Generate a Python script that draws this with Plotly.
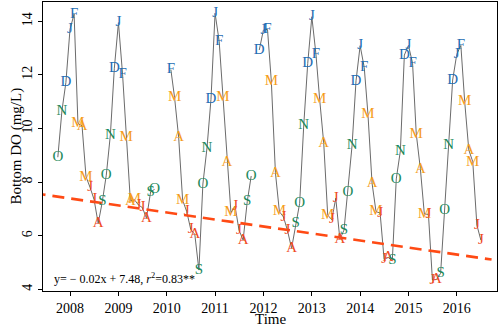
import plotly.graph_objects as go

# Monthly bottom dissolved oxygen (mg/L); months without a sample are left out
months = [
    "2007-10", "2007-11", "2007-12",
    "2008-01", "2008-02", "2008-03", "2008-04", "2008-05", "2008-06", "2008-07", "2008-08", "2008-09", "2008-10", "2008-11", "2008-12",
    "2009-01", "2009-02", "2009-03", "2009-04", "2009-05", "2009-06", "2009-07", "2009-08", "2009-09", "2009-10",
    "2010-02", "2010-03", "2010-04", "2010-05", "2010-06", "2010-07", "2010-08", "2010-09", "2010-10", "2010-11", "2010-12",
    "2011-01", "2011-02", "2011-03", "2011-04", "2011-05", "2011-06", "2011-07", "2011-08", "2011-09", "2011-10", "2011-12",
    "2012-01", "2012-02", "2012-03", "2012-04", "2012-05", "2012-06", "2012-07", "2012-08", "2012-09", "2012-10", "2012-11", "2012-12",
    "2013-01", "2013-02", "2013-03", "2013-04", "2013-05", "2013-06", "2013-07", "2013-08", "2013-09", "2013-10", "2013-11", "2013-12",
    "2014-01", "2014-02", "2014-03", "2014-04", "2014-05", "2014-06", "2014-07", "2014-08", "2014-09", "2014-10", "2014-11", "2014-12",
    "2015-01", "2015-02", "2015-03", "2015-04", "2015-05", "2015-06", "2015-07", "2015-08", "2015-09", "2015-10", "2015-11", "2015-12",
    "2016-01", "2016-02", "2016-03", "2016-04", "2016-05", "2016-06", "2016-07",
]
bottom_do = [
    8.93, 10.66, 11.72,
    13.70, 14.27, 10.19, 10.10, 8.20, 7.80, 7.35, 6.46, 7.27, 8.26, 9.76, 12.25,
    13.95, 12.03, 9.67, 7.30, 7.35, 7.15, 7.05, 6.65, 7.64, 7.73,
    12.20, 11.16, 9.67, 7.33, 6.90, 6.24, 6.05, 4.72, 7.93, 9.28, 11.09,
    14.30, 13.26, 11.15, 8.76, 6.86, 7.10, 6.21, 5.84, 7.27, 8.23, 12.93,
    13.67, 13.70, 11.77, 8.35, 6.90, 6.70, 6.20, 5.53, 6.46, 7.21, 10.13, 12.43,
    14.17, 12.78, 11.10, 9.45, 6.77, 6.60, 7.40, 5.87, 6.21, 7.64, 9.36, 11.78,
    13.09, 12.28, 10.54, 7.96, 6.90, 6.85, 5.12, 5.19, 5.07, 8.12, 9.17, 12.74,
    13.10, 12.44, 9.80, 8.50, 6.81, 6.80, 4.35, 4.37, 4.60, 6.96, 9.36, 11.81,
    12.77, 13.10, 11.00, 9.20, 8.76, 6.40, 5.84,
]

month_letters = ["J", "F", "M", "A", "M", "J", "J", "A", "S", "O", "N", "D"]
season_colors = {
    "winter": "#1f6db3",
    "spring": "#f59d1c",
    "summer": "#ef4a23",
    "autumn": "#21895a",
}
season_of_month = ["winter", "winter", "spring", "spring", "spring", "summer",
                   "summer", "summer", "autumn", "autumn", "autumn", "winter"]

year_ticks = ["2008", "2009", "2010", "2011", "2012", "2013", "2014", "2015", "2016"]

# Linear trend, x counted in months from September 2007
trend_slope = -0.0218
trend_intercept = 7.48
trend_span = [("2007-04-01", -5), ("2016-09-20", 108.6)]

SERIF = "Liberation Serif, Times New Roman, Times, serif"

month_num = [int(m.split("-")[1]) for m in months]
month_index = [int(m.split("-")[0]) * 12 + int(m.split("-")[1]) for m in months]
dates = [m + "-01" for m in months]
letters = [month_letters[k - 1] for k in month_num]
colors = [season_colors[season_of_month[k - 1]] for k in month_num]

# Connecting line breaks wherever sampling months are not consecutive
line_x, line_y = [], []
for i, (d, v) in enumerate(zip(dates, bottom_do)):
    if i > 0 and month_index[i] - month_index[i - 1] > 1:
        line_x.append(None)
        line_y.append(None)
    line_x.append(d)
    line_y.append(v)

fig = go.Figure()

fig.add_trace(go.Scatter(
    x=line_x, y=line_y, mode="lines", connectgaps=False,
    line=dict(color="#6b6b6b", width=1),
    hoverinfo="skip", showlegend=False,
))

fig.add_trace(go.Scatter(
    x=[d for d, _ in trend_span],
    y=[trend_intercept + trend_slope * m for _, m in trend_span],
    mode="lines",
    line=dict(color="#ff4a14", width=2.6, dash="12px,7px"),
    hoverinfo="skip", showlegend=False,
))

fig.add_trace(go.Scatter(
    x=dates, y=bottom_do, mode="text", text=letters,
    textposition="middle center",
    textfont=dict(family=SERIF, size=15, color=colors),
    showlegend=False,
))

fig.add_annotation(
    x=0.02, y=0.0, xref="paper", yref="paper",
    xanchor="left", yanchor="bottom", yshift=3,
    text="y= − 0.02x + 7.48, <i>r</i><sup>2</sup>=0.83**",
    showarrow=False,
    font=dict(family=SERIF, size=12, color="black"),
)

# Axis titles placed as annotations for tighter spacing
fig.add_annotation(
    x=0.5, y=0.0, xref="paper", yref="paper",
    xanchor="center", yanchor="middle", yshift=-28,
    text="Time", showarrow=False,
    font=dict(family=SERIF, size=15, color="black"),
)
fig.add_annotation(
    x=0.0, y=0.5, xref="paper", yref="paper",
    xanchor="center", yanchor="middle", xshift=-27,
    text="Bottom DO (mg/L)", textangle=-90, showarrow=False,
    font=dict(family=SERIF, size=15, color="black"),
)

axis_common = dict(
    showline=True, linecolor="black", linewidth=1.2, mirror=True,
    showgrid=False, zeroline=False,
    ticks="outside", ticklen=4, tickcolor="black", tickwidth=1,
    tickfont=dict(family=SERIF, size=14, color="black"),
)

fig.update_layout(
    width=500, height=333,
    margin=dict(l=43, r=3, t=2, b=42),
    paper_bgcolor="white", plot_bgcolor="white",
    xaxis=dict(
        **axis_common,
        range=["2007-06-11", "2016-10-31"],
        tickvals=[y + "-01-01" for y in year_ticks],
        ticktext=year_ticks,
    ),
    yaxis=dict(
        **axis_common,
        range=[3.94, 14.72],
        tickvals=[4, 6, 8, 10, 12, 14],
        tickangle=-90,
    ),
)

fig.write_html("out.html")
